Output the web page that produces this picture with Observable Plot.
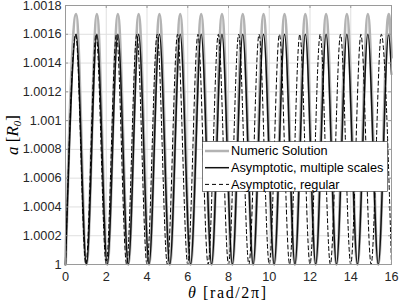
<!DOCTYPE html>
<html>
<head>
<meta charset="utf-8">
<script src="https://cdn.jsdelivr.net/npm/d3@7"></script>
<script src="https://cdn.jsdelivr.net/npm/@observablehq/plot@0.6"></script>
<style>
  html, body { margin: 0; padding: 0; background: #fff; }
</style>
</head>
<body>
<div id="chart"></div>
<script>
// theta [rad/2pi] at the troughs/peaks of the numeric & multiple-scales curves
const msX = [0, 0.52, 1.03, 1.54, 2.05, 2.57, 3.08, 3.59, 4.10, 4.61, 5.12, 5.63, 6.14, 6.66, 7.17, 7.68,
             8.19, 8.70, 9.21, 9.72, 10.24, 10.75, 11.26, 11.77, 12.28, 12.79, 13.30, 13.81, 14.33, 14.84,
             15.35, 15.86, 16];
const numericY = [1, 1.00174, 1, 1.00174, 1, 1.00174, 1, 1.00174, 1, 1.00174, 1, 1.00174, 1, 1.00174, 1, 1.00174,
                  1, 1.00174, 1, 1.00174, 1, 1.00174, 1, 1.00174, 1, 1.00174, 1, 1.00174, 1, 1.00174,
                  1, 1.00174, 1.00144];
const multipleY = [1, 1.0016, 1, 1.0016, 1, 1.0016, 1, 1.0016, 1, 1.0016, 1, 1.0016, 1, 1.0016, 1, 1.0016,
                   1, 1.0016, 1, 1.0016, 1, 1.0016, 1, 1.0016, 1, 1.0016, 1, 1.0016, 1, 1.0016,
                   1, 1.0016, 1.00132];
// regular asymptotic curve extrema
const regularX = [0, 0.5, 1, 1.5, 2, 2.5, 3, 3.5, 4, 4.5, 5, 5.5, 6, 6.5, 7, 7.5,
                  8, 8.5, 9, 9.5, 10, 10.5, 11, 11.5, 12, 12.5, 13, 13.5, 14, 14.5, 15, 15.5, 16];
const regularY = [1, 1.0016, 1, 1.0016, 1, 1.0016, 1, 1.0016, 1, 1.0016, 1, 1.0016, 1, 1.0016, 1, 1.0016,
                  1, 1.0016, 1, 1.0016, 1, 1.0016, 1, 1.0016, 1, 1.0016, 1, 1.0016, 1, 1.0016, 1, 1.0016, 1];

const xTicks = [0, 2, 4, 6, 8, 10, 12, 14, 16];
const yTicks = [1, 1.0002, 1.0004, 1.0006, 1.0008, 1.001, 1.0012, 1.0014, 1.0016, 1.0018];
const seriesNames = ["Numeric Solution", "Asymptotic, multiple scales", "Asymptotic, regular"];

const numeric = msX.map((x, i) => ({x, y: numericY[i]}));
const multiple = msX.map((x, i) => ({x, y: multipleY[i]}));
const regular = regularX.map((x, i) => ({x, y: regularY[i]}));

const fmt = d3.format(".4~f");
const W = 399, H = 305, mL = 65, mR = 8, mT = 5, mB = 41;
const innerW = W - mL - mR, innerH = H - mT - mB;

const svg = Plot.plot({
  width: W,
  height: H,
  marginLeft: mL,
  marginRight: mR,
  marginTop: mT,
  marginBottom: mB,
  style: {fontFamily: "'Liberation Sans', Arial, sans-serif", fontSize: "12.7px", color: "#262626", background: "#fff"},
  x: {domain: [0, 16], label: null},
  y: {domain: [1, 1.0018], label: null},
  marks: [
    Plot.gridX(xTicks, {stroke: "#dfdfdf", strokeOpacity: 1}),
    Plot.gridY(yTicks, {stroke: "#dfdfdf", strokeOpacity: 1}),
    Plot.line(numeric, {x: "x", y: "y", curve: "monotone-x", stroke: "#b3b3b3", strokeWidth: 3}),
    Plot.line(multiple, {x: "x", y: "y", curve: "monotone-x", stroke: "#111", strokeWidth: 1.5}),
    Plot.line(regular, {x: "x", y: "y", curve: "monotone-x", stroke: "#000", strokeWidth: 1, strokeDasharray: "4,3"}),
    // small inward ticks (MATLAB style)
    Plot.tickX(xTicks, {x: d => d, insetTop: innerH - 3, stroke: "#9a9a9a"}),
    Plot.tickX(xTicks, {x: d => d, insetBottom: innerH - 3, stroke: "#9a9a9a"}),
    Plot.tickY(yTicks, {y: d => d, insetRight: innerW - 3, stroke: "#9a9a9a"}),
    Plot.tickY(yTicks, {y: d => d, insetLeft: innerW - 3, stroke: "#9a9a9a"}),
    Plot.frame({stroke: "#9a9a9a"}),
    Plot.axisX(xTicks, {tickSize: 0, tickPadding: 7, tickFormat: d => String(d), fill: "#262626"}),
    Plot.axisY(yTicks, {tickSize: 0, tickPadding: 4, tickFormat: fmt, fill: "#262626"})
  ]
});

const root = d3.select(svg);

// axis titles
const xl = root.append("text")
  .attr("x", 227).attr("y", 298)
  .attr("text-anchor", "middle")
  .attr("font-family", "'Liberation Serif', 'DejaVu Serif', serif")
  .attr("font-size", 16)
  .attr("fill", "#000")
  .attr("textLength", 78).attr("lengthAdjust", "spacing");
xl.append("tspan").attr("font-style", "italic").text("θ");
xl.append("tspan").text(" [rad/2π]");

const yl = root.append("text")
  .attr("transform", "translate(18,135) rotate(-90)")
  .attr("text-anchor", "middle")
  .attr("font-family", "'Liberation Serif', 'DejaVu Serif', serif")
  .attr("font-size", 17)
  .attr("fill", "#000");
yl.append("tspan").attr("font-style", "italic").text("a");
yl.append("tspan").text(" [");
yl.append("tspan").attr("font-style", "italic").text("R");
yl.append("tspan").attr("font-style", "italic").attr("font-size", 11).attr("dy", 3).text("0");
yl.append("tspan").attr("dy", -3).text("]");

// legend inside the axes
const lg = root.append("g").attr("text-anchor", "start");
lg.append("rect")
  .attr("x", 202.5).attr("y", 141.5).attr("width", 185).attr("height", 50)
  .attr("fill", "#fff").attr("stroke", "#262626").attr("stroke-width", 0.6);
const styles = [
  {stroke: "#b3b3b3", width: 2.5, dash: null},
  {stroke: "#111", width: 1.5, dash: null},
  {stroke: "#000", width: 1, dash: "4,3"}
];
seriesNames.forEach((name, i) => {
  const cy = 151 + i * 16.7;
  lg.append("line")
    .attr("x1", 205).attr("x2", 229).attr("y1", cy).attr("y2", cy)
    .attr("stroke", styles[i].stroke).attr("stroke-width", styles[i].width)
    .attr("stroke-dasharray", styles[i].dash);
  lg.append("text")
    .attr("x", 231).attr("y", cy).attr("dy", "0.35em")
    .attr("text-anchor", "start")
    .attr("font-family", "'Liberation Sans', Arial, sans-serif")
    .attr("font-size", 12.7).attr("fill", "#000")
    .text(name);
});

document.getElementById("chart").appendChild(svg);
</script>
</body>
</html>
